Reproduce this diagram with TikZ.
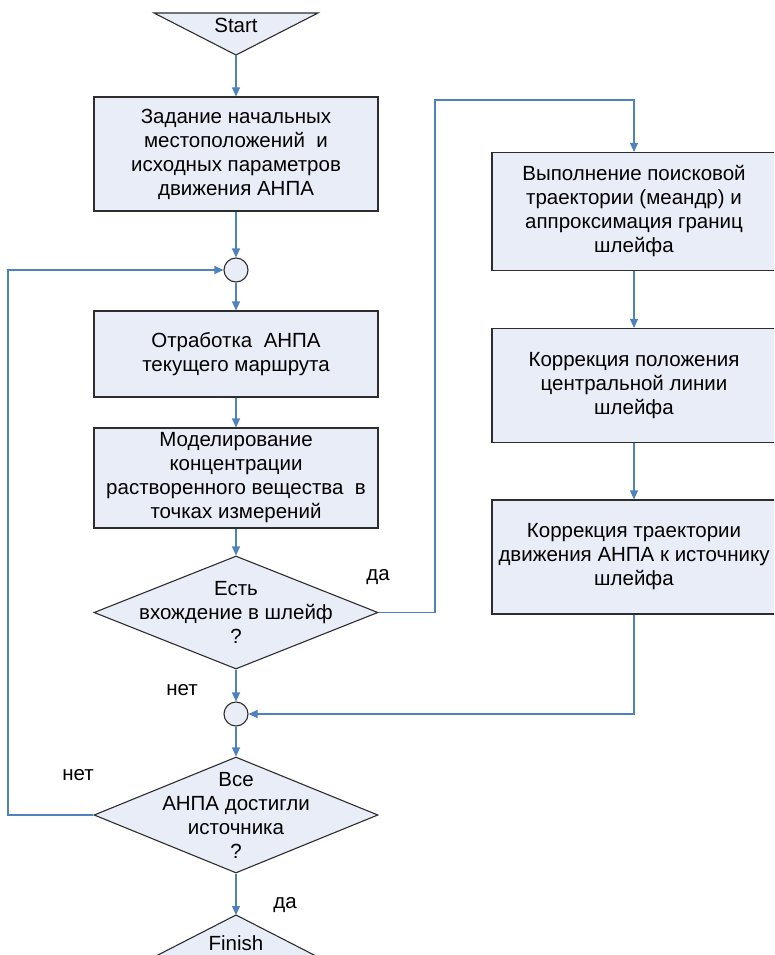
\documentclass[tikz,border=0pt]{standalone}
\usepackage{fontspec}
\setmainfont{Liberation Sans}
\usetikzlibrary{arrows.meta,shapes.geometric}
\definecolor{fillc}{RGB}{233,237,247}
\definecolor{linec}{RGB}{79,129,189}
\definecolor{edgec}{RGB}{45,45,45}
\begin{document}
\begin{tikzpicture}[x=1pt,y=-1pt,
  font=\fontsize{20.5}{24}\selectfont,
  box/.style={draw=edgec, line width=1.1pt, fill=fillc, minimum width=284pt, align=center, inner sep=0pt},
  decision/.style={diamond, draw=edgec, line width=1.1pt, fill=fillc, minimum width=284pt, inner sep=0pt},
  joint/.style={circle, draw=edgec, line width=1.1pt, fill=fillc, minimum size=24pt, inner sep=0pt},
  txt/.style={align=center, inner sep=0pt},
  lbl/.style={anchor=base, inner sep=0pt},
  conn/.style={draw=linec, line width=1.1pt, -{Triangle[length=9pt,width=8pt]}},
  plain/.style={draw=linec, line width=1.1pt}]
\useasboundingbox (0,0) rectangle (774,955);
\clip (0,0) rectangle (774,955);

% Start
\filldraw[draw=edgec, fill=fillc, line width=1.1pt] (154,13) -- (318,13) -- (236,55) -- cycle;
\node[lbl] (start) at (236,33) {Start};
\coordinate (sapex) at (236,55);

% left column
\node[box, minimum height=114pt] (b1) at (236,154) {Задание начальных\\местоположений\ \ и\\исходных параметров\\движения АНПА};
\node[joint] (c1) at (236,270) {};
\node[box, minimum height=86pt] (b2) at (236,354) {Отработка\ \ АНПА\\текущего маршрута};
\node[box, minimum height=100pt] (b3) at (236,478) {Моделирование\\концентрации\\растворенного вещества\ \ в\\точках измерений};
\node[decision, minimum height=113pt] (d1) at (236,612.5) {};
\node[txt] (d1t) at (236,612.5) {Есть\\вхождение в шлейф\\?};
\node[joint] (c2) at (236,714) {};
\node[decision, minimum height=116pt] (d2) at (236,815) {};
\node[txt] (d2t) at (236,815) {Все\\АНПА достигли\\источника\\?};

% Finish
\filldraw[draw=edgec, fill=fillc, line width=1.1pt] (236,915) -- (318,957) -- (154,957) -- cycle;
\coordinate (fapex) at (236,915);
\node[lbl] (finish) at (236,950) {Finish};

% right column
\node[box, minimum height=118pt] (r1) at (634,211.5) {Выполнение поисковой\\траектории (меандр) и\\аппроксимация границ\\шлейфа};
\node[box, minimum height=114pt] (r2) at (634,385.5) {Коррекция положения\\центральной линии\\шлейфа};
\node[box, minimum height=114pt] (r3) at (634,557) {Коррекция траектории\\движения АНПА к источнику\\шлейфа};

% labels
\node[lbl] (yes1) at (378,580) {да};
\node[lbl] (no1) at (182,695) {нет};
\node[lbl] (no2) at (78,780) {нет};
\node[lbl] (yes2) at (285,908) {да};

% connectors
\coordinate (ta) at (435,100);
\coordinate (lx) at (8,815);
\draw[conn] (sapex) -- (b1);
\draw[conn] (b1) -- (c1);
\draw[conn] (c1) -- (b2);
\draw[conn] (b2) -- (b3);
\draw[conn] (b3) -- (d1);
\draw[conn] (d1) -- (c2);
\draw[conn] (c2) -- (d2);
\draw[conn] (d2) -- (fapex);
\draw[conn] (d1.east) -| (ta) -| (r1);
\draw[conn] (r1) -- (r2);
\draw[conn] (r2) -- (r3);
\draw[conn] (r3) |- (c2);
\draw[conn] (d2.west) -- (lx) |- (c1);
\end{tikzpicture}
\end{document}
